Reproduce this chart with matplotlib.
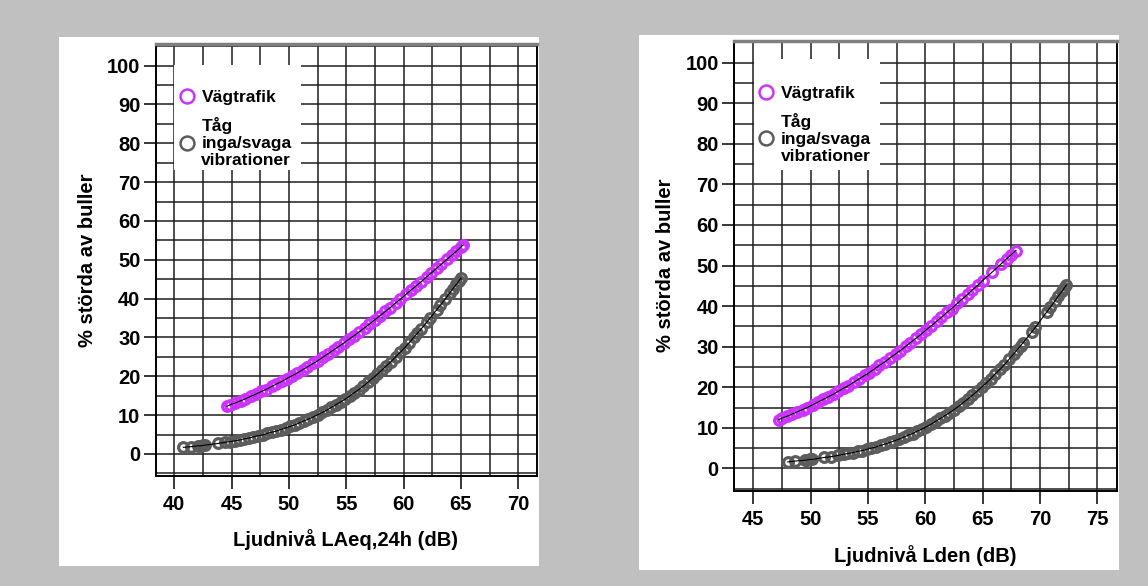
import matplotlib
matplotlib.use("Agg")
import matplotlib.pyplot as plt
from matplotlib.lines import Line2D
from matplotlib.patches import Rectangle
from matplotlib.ticker import MultipleLocator

plt.rcParams['font.family'] = ['Liberation Sans', 'DejaVu Sans']
plt.rcParams['font.weight'] = 'bold'
plt.rcParams['axes.labelweight'] = 'bold'

ROAD_COLOR = '#cc33ff'
TRAIN_COLOR = '#5c5c5c'

# LAeq,24h panel
laeq_road_x = [44.6, 44.9, 45.3, 45.8, 46.2, 46.7, 47.1, 47.6, 48.0, 48.5, 48.9, 49.4,
               49.8, 50.3, 50.7, 51.2, 51.6, 52.1, 52.5, 53.0, 53.4, 53.9, 54.3, 54.8,
               55.2, 55.7, 56.1, 56.6, 57.0, 57.5, 57.9, 58.4, 58.8, 59.3, 59.7, 60.2,
               60.6, 61.1, 61.5, 62.0, 62.4, 62.9, 63.3, 63.8, 64.2, 64.6, 65.0, 65.2]
laeq_road_y = [12.3, 12.7, 13.1, 13.7, 14.2, 14.9, 15.4, 16.1, 16.6, 17.4, 18.0, 18.7,
               19.4, 20.2, 20.8, 21.7, 22.4, 23.3, 24.0, 25.0, 25.8, 26.8, 27.6, 28.6,
               29.5, 30.5, 31.4, 32.5, 33.4, 34.6, 35.5, 36.7, 37.6, 38.9, 39.8, 41.1,
               42.1, 43.3, 44.3, 45.6, 46.6, 47.9, 48.9, 50.2, 51.2, 52.2, 53.3, 53.8]
laeq_train_x = [40.8, 41.5, 42.1, 42.3, 42.5, 42.7, 43.8, 44.4, 44.9, 45.3, 45.7, 46.1,
                46.5, 46.9, 47.3, 47.7, 48.1, 48.5, 48.9, 49.3, 49.7, 50.1, 50.5, 50.9,
                51.3, 51.7, 52.1, 52.5, 52.9, 53.3, 53.7, 54.1, 54.5, 54.9, 55.3, 55.7,
                56.1, 56.5, 56.9, 57.3, 57.7, 58.1, 58.5, 58.9, 59.3, 59.7, 60.1, 60.5,
                60.9, 61.2, 61.5, 62.0, 62.3, 62.9, 63.2, 63.6, 64.0, 64.3, 64.6, 64.8, 65.0]
laeq_train_y = [1.7, 1.9, 2.1, 2.1, 2.2, 2.3, 2.7, 3.0, 3.2, 3.4, 3.6, 3.9,
                4.1, 4.4, 4.7, 4.9, 5.3, 5.6, 5.9, 6.3, 6.7, 7.1, 7.5, 8.0,
                8.5, 9.0, 9.5, 10.1, 10.7, 11.3, 12.0, 12.7, 13.4, 14.1, 14.9, 15.8,
                16.6, 17.5, 18.5, 19.5, 20.5, 21.6, 22.7, 23.8, 25.0, 26.2, 27.4, 28.7,
                30.1, 31.1, 32.1, 33.9, 35.0, 37.2, 38.3, 39.8, 41.4, 42.6, 43.7, 44.5, 45.3]

# Lden panel
lden_road_x = [47.2, 47.5, 47.9, 48.4, 48.8, 49.3, 49.7, 50.2, 50.6, 51.1, 51.5, 52.0,
               52.4, 52.9, 53.3, 53.8, 54.2, 54.7, 55.1, 55.6, 56.0, 56.5, 56.9, 57.4,
               57.8, 58.3, 58.7, 59.2, 59.6, 60.1, 60.5, 61.0, 61.4, 61.9, 62.3, 62.8,
               63.2, 63.7, 64.1, 64.6, 65.0, 65.8, 66.6, 67.1, 67.5, 67.9]
lden_road_y = [12.0, 12.4, 12.8, 13.4, 13.9, 14.5, 15.0, 15.7, 16.3, 17.0, 17.6, 18.3,
               19.0, 19.8, 20.4, 21.3, 22.0, 22.9, 23.6, 24.6, 25.4, 26.3, 27.2, 28.2,
               29.0, 30.1, 31.0, 32.1, 33.0, 34.2, 35.1, 36.3, 37.2, 38.5, 39.4, 40.7,
               41.7, 42.9, 44.0, 45.2, 46.3, 48.3, 50.4, 51.7, 52.7, 53.7]
lden_train_x = [48.0, 48.6, 49.5, 49.7, 49.9, 50.1, 51.2, 51.8, 52.4, 52.9, 53.3, 53.7,
                54.1, 54.5, 54.9, 55.3, 55.7, 56.1, 56.5, 56.9, 57.3, 57.7, 58.1, 58.5,
                58.9, 59.3, 59.7, 60.1, 60.5, 60.9, 61.3, 61.7, 62.1, 62.5, 62.9, 63.3,
                63.7, 64.1, 64.5, 64.9, 65.3, 65.7, 66.1, 66.5, 66.9, 67.3, 67.7, 68.0,
                68.3, 68.5, 69.3, 69.6, 70.6, 70.9, 71.3, 71.6, 71.9, 72.1, 72.3]
lden_train_y = [1.6, 1.8, 2.0, 2.1, 2.2, 2.2, 2.7, 2.9, 3.2, 3.5, 3.7, 3.9,
                4.2, 4.4, 4.7, 5.0, 5.3, 5.7, 6.0, 6.4, 6.8, 7.2, 7.7, 8.2,
                8.6, 9.2, 9.7, 10.3, 10.9, 11.6, 12.3, 13.0, 13.7, 14.5, 15.3, 16.2,
                17.1, 18.0, 19.0, 20.0, 21.0, 22.1, 23.3, 24.4, 25.6, 26.9, 28.2, 29.2,
                30.2, 30.9, 33.7, 34.8, 38.6, 39.7, 41.3, 42.5, 43.6, 44.4, 45.2]

road_label = 'Vägtrafik'
train_label = 'Tåg\ninga/svaga\nvibrationer'
ylabel = '% störda av buller'


def draw_panel(fig, rect, xlim, ylim, road, train, xlabel, label_pos, legend_box, legend_pos):
    ax = fig.add_axes(rect)
    ax.set_xlim(*xlim)
    ax.set_ylim(*ylim)

    for (x, y), color in ((road, ROAD_COLOR), (train, TRAIN_COLOR)):
        ax.plot(x, y, 'o', mfc='none', mec=color, ms=7, mew=2.3, zorder=3)
        ax.plot(x, y, color='black', lw=0.8, zorder=4)

    ax.xaxis.set_major_locator(MultipleLocator(5))
    ax.xaxis.set_minor_locator(MultipleLocator(2.5))
    ax.yaxis.set_major_locator(MultipleLocator(10))
    ax.yaxis.set_minor_locator(MultipleLocator(5))
    ax.grid(which='both', color='#1e1e1e', lw=1.1)
    ax.set_axisbelow(True)
    ax.tick_params(which='major', direction='out', length=9, width=1.1,
                   labelsize=14.5)
    ax.tick_params(axis='x', which='major', pad=5)
    ax.tick_params(axis='y', which='major', pad=2)
    ax.tick_params(which='minor', length=0)
    for lab in ax.get_xticklabels() + ax.get_yticklabels():
        lab.set_fontweight('bold')

    for side in ('left', 'right', 'bottom'):
        ax.spines[side].set_color('black')
        ax.spines[side].set_linewidth(1.4)
    ax.spines['top'].set_color('#808080')
    ax.spines['top'].set_linewidth(2.5)

    ax.set_xlabel(xlabel, fontsize=14.5, fontweight='bold', va='center')
    ax.xaxis.set_label_coords(*label_pos[0])
    ax.set_ylabel(ylabel, fontsize=14.5, fontweight='bold', va='center')
    ax.yaxis.set_label_coords(*label_pos[1])

    # white box under the legend, hides the grid
    x0, y0, x1, y1 = legend_box
    ax.add_patch(Rectangle((x0, y0), x1 - x0, y1 - y0, transform=ax.transAxes,
                           facecolor='white', edgecolor='none', zorder=5))

    handles = [
        Line2D([], [], ls='none', marker='o', ms=10, mfc='none', mec=ROAD_COLOR, mew=1.8),
        Line2D([], [], ls='none', marker='o', ms=10, mfc='none', mec=TRAIN_COLOR, mew=1.8),
    ]
    leg = ax.legend(handles, [road_label, train_label], loc='upper left',
                    bbox_to_anchor=legend_pos, borderaxespad=0, frameon=False,
                    prop={'weight': 'bold', 'size': 12.5},
                    handlelength=1.0, handletextpad=0.35, borderpad=0,
                    labelspacing=0.7)
    leg.set_zorder(6)
    for t in leg.get_texts():
        t.set_linespacing(1.15)
    return ax


fig = plt.figure(figsize=(11.48, 5.86), dpi=100)
fig.patch.set_facecolor('#c0c0c0')

# white card behind each chart
for card in ((0.0514, 0.0341, 0.4181, 0.9027), (0.5566, 0.0273, 0.4181, 0.9130)):
    fig.patches.append(Rectangle(card[:2], card[2], card[3], transform=fig.transFigure,
                                 facecolor='white', edgecolor='none', zorder=-10))

draw_panel(fig, [0.1356, 0.1882, 0.3319, 0.7362], (38.38, 71.6), (-5.6, 105.5),
           (laeq_road_x, laeq_road_y), (laeq_train_x, laeq_train_y),
           'Ljudnivå LAeq,24h (dB)', ((0.497, -0.149), (-0.180, 0.5)),
           (0.048, 0.709, 0.381, 0.952), (0.0585, 0.894))

draw_panel(fig, [0.6394, 0.1626, 0.3334, 0.7679], (43.32, 76.69), (-5.5, 105.4),
           (lden_road_x, lden_road_y), (lden_train_x, lden_train_y),
           'Ljudnivå Lden (dB)', ((0.499, -0.143), (-0.180, 0.50)),
           (0.052, 0.713, 0.3815, 0.959), (0.062, 0.900))

fig.savefig('out.png', dpi=100, facecolor=fig.get_facecolor())
